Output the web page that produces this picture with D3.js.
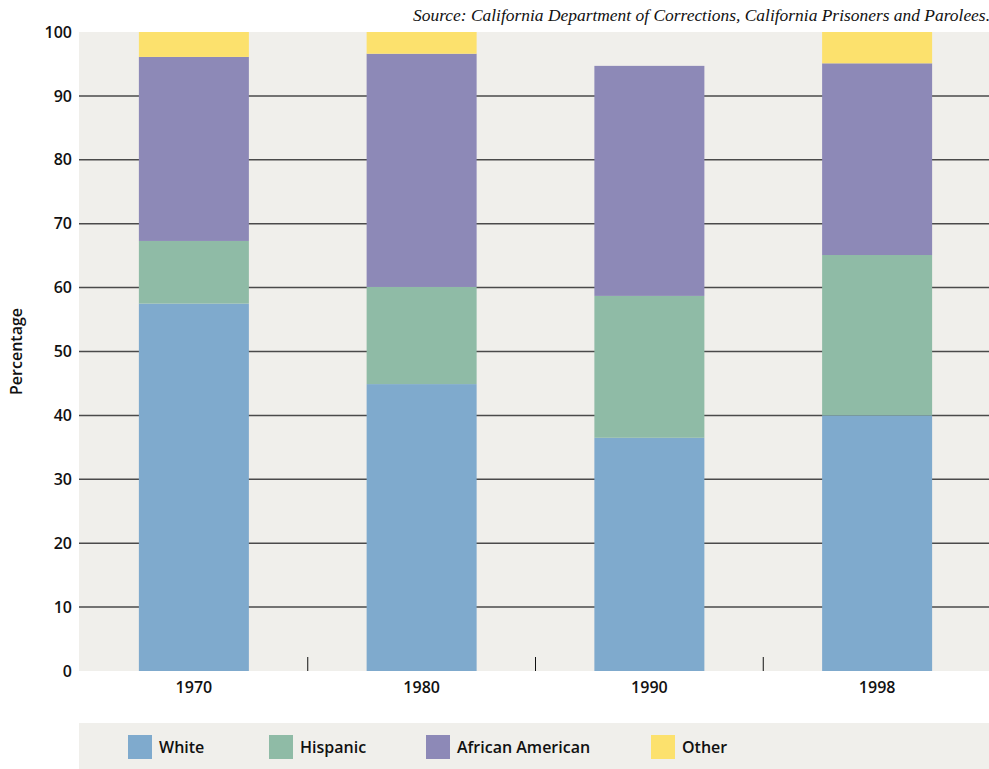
<!DOCTYPE html>
<html>
<head>
<meta charset="utf-8">
<script src="https://cdn.jsdelivr.net/npm/d3@7"></script>
<style>
  html, body { margin: 0; padding: 0; background: #ffffff; }
  svg { display: block; }
</style>
</head>
<body>
<script>
const years = ["1970", "1980", "1990", "1998"];
const seriesNames = ["White", "Hispanic", "African American", "Other"];
const white = [57.5, 44.9, 36.5, 40.0];
const hispanic = [9.8, 15.2, 22.2, 25.1];
const africanAmerican = [28.8, 36.5, 36.0, 30.0];
const other = [3.9, 3.4, 0, 4.9];
const seriesColors = ["#7FAACD", "#8FBBA6", "#8D89B7", "#FCE16D"];
const yTicks = [0, 10, 20, 30, 40, 50, 60, 70, 80, 90, 100];
const sourceText = "Source: California Department of Corrections, California Prisoners and Parolees.";

const W = 989, H = 769;
const margin = { left: 79, right: 0, top: 32, bottom: 98 };

const svg = d3.select("body").append("svg").attr("width", W).attr("height", H);

const rows = years.map((y, i) => ({
  year: y,
  "White": white[i],
  "Hispanic": hispanic[i],
  "African American": africanAmerican[i],
  "Other": other[i]
}));
const stacked = d3.stack().keys(seriesNames)(rows);

const x = d3.scaleBand().domain(years).range([80, 991])
  .paddingInner(0.517).paddingOuter(0.2585);
const y = d3.scaleLinear().domain([0, 100]).range([H - margin.bottom, margin.top]);
const color = d3.scaleOrdinal().domain(seriesNames).range(seriesColors);

// plot background
svg.append("rect")
  .attr("x", margin.left).attr("y", y(100))
  .attr("width", W - margin.left).attr("height", y(0) - y(100))
  .attr("fill", "#F0EFEB");

// gridlines
svg.append("g").selectAll("line")
  .data(yTicks.filter(d => d > 0 && d < 100))
  .join("line")
  .attr("x1", margin.left).attr("x2", W)
  .attr("y1", d => y(d)).attr("y2", d => y(d))
  .attr("stroke", "#4a4a4a").attr("stroke-width", 1.5);

// bars
svg.append("g").selectAll("g")
  .data(stacked)
  .join("g")
  .attr("fill", d => color(d.key))
  .selectAll("rect")
  .data(d => d)
  .join("rect")
  .attr("x", d => x(d.data.year))
  .attr("width", x.bandwidth())
  .attr("y", d => y(d[1]))
  .attr("height", d => Math.max(0, y(d[0]) - y(d[1])));

// y axis labels
const yAxis = d3.axisLeft(y).tickValues(yTicks).tickSize(0).tickPadding(7);
const yg = svg.append("g").attr("transform", `translate(${margin.left},0)`).call(yAxis);
yg.select(".domain").remove();
yg.selectAll("text")
  .attr("font-family", "'Open Sans', sans-serif")
  .attr("font-weight", 600)
  .attr("font-size", 16)
  .attr("fill", "#111");

// x axis
const xAxis = d3.axisBottom(x).tickSize(0).tickPadding(11);
const xg = svg.append("g").attr("transform", `translate(0,${y(0)})`).call(xAxis);
xg.select(".domain").remove();
xg.selectAll("text")
  .attr("font-family", "'Open Sans', sans-serif")
  .attr("font-weight", 600)
  .attr("font-size", 16)
  .attr("fill", "#111");

// separator ticks between bands
const seps = years.slice(0, -1).map(d => x(d) + x.bandwidth() + x.step() * x.paddingInner() / 2);
svg.append("g").selectAll("line")
  .data(seps)
  .join("line")
  .attr("x1", d => d).attr("x2", d => d)
  .attr("y1", y(0) - 14).attr("y2", y(0))
  .attr("stroke", "#111").attr("stroke-width", 1);

// y title
svg.append("text")
  .attr("transform", `translate(22,${(y(0) + y(100)) / 2}) rotate(-90)`)
  .attr("text-anchor", "middle")
  .attr("font-family", "'Open Sans', sans-serif")
  .attr("font-weight", 600)
  .attr("font-size", 16)
  .attr("fill", "#111")
  .text("Percentage");

// source
svg.append("text")
  .attr("x", 413).attr("y", 21)
  .attr("font-family", "'Liberation Serif', 'Times New Roman', serif")
  .attr("font-style", "italic")
  .attr("font-size", 17)
  .attr("fill", "#111")
  .attr("textLength", 577)
  .attr("lengthAdjust", "spacingAndGlyphs")
  .text(sourceText);

// legend
svg.append("rect")
  .attr("x", margin.left).attr("y", 723)
  .attr("width", W - margin.left).attr("height", H - 723)
  .attr("fill", "#F0EFEB");
const legendX = [128, 269, 426, 651];
const lg = svg.append("g").selectAll("g")
  .data(seriesNames)
  .join("g")
  .attr("transform", (d, i) => `translate(${legendX[i]},735)`);
lg.append("rect").attr("width", 24).attr("height", 24).attr("fill", d => color(d));
lg.append("text")
  .attr("x", 31).attr("y", 18)
  .attr("font-family", "'Open Sans', sans-serif")
  .attr("font-weight", 600)
  .attr("font-size", 16)
  .attr("fill", "#111")
  .text(d => d);
</script>
</body>
</html>
